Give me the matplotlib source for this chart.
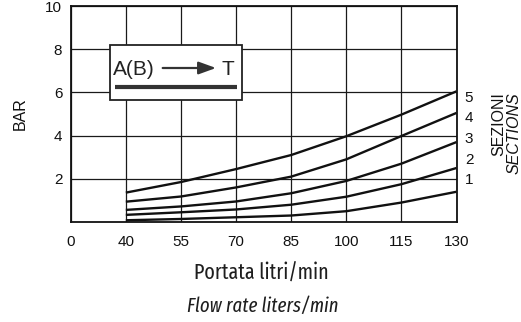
import numpy as np
import matplotlib
matplotlib.use("Agg")
import matplotlib.pyplot as plt
from matplotlib.patches import Rectangle, FancyArrowPatch
from matplotlib.lines import Line2D

# ---- data ----
tick_values = [0, 40, 55, 70, 85, 100, 115, 130]
tick_labels = ["0", "40", "55", "70", "85", "100", "115", "130"]
flow = [40, 55, 70, 85, 100, 115, 130]
sec1 = [0.08, 0.14, 0.22, 0.30, 0.50, 0.90, 1.40]
sec2 = [0.33, 0.45, 0.58, 0.80, 1.17, 1.75, 2.50]
sec3 = [0.56, 0.72, 0.95, 1.33, 1.90, 2.70, 3.70]
sec4 = [0.94, 1.18, 1.60, 2.10, 2.90, 3.98, 5.05]
sec5 = [1.36, 1.85, 2.45, 3.10, 3.97, 4.97, 6.05]
series = [sec1, sec2, sec3, sec4, sec5]
section_labels = ["5", "4", "3", "2", "1"]
y_ticks = [2, 4, 6, 8, 10]

W, H = 521, 322
fig = plt.figure(figsize=(W / 100, H / 100), dpi=100)
fig.patch.set_facecolor("white")

def px(x, y):
    return x / W, 1 - y / H

ax_l, ax_r, ax_t, ax_b = 70.7, 456.5, 6, 222
ax = fig.add_axes([ax_l / W, 1 - ax_b / H, (ax_r - ax_l) / W, (ax_b - ax_t) / H])

positions = np.arange(len(tick_values))
xpos = np.interp(flow, tick_values, positions)

ax.set_xlim(0, len(tick_values) - 1)
ax.set_ylim(0, 10)
ax.set_xticks(positions)
ax.set_xticklabels(tick_labels)
ax.set_yticks(y_ticks)
ax.set_yticklabels([str(v) for v in y_ticks])
ax.tick_params(length=0, labelsize=11, colors="#111111")
ax.tick_params(axis="x", pad=9)
ax.tick_params(axis="y", pad=6)
for lab in ax.get_xticklabels() + ax.get_yticklabels():
    lab.set_fontfamily("Liberation Sans")

ax.grid(True, color="#1a1a1a", lw=0.9)
ax.set_axisbelow(True)
for s in ax.spines.values():
    s.set_color("#111111")
    s.set_linewidth(1.3)

for ys in series:
    ax.plot(xpos, ys, color="#111111", lw=1.7, solid_capstyle="butt", zorder=3,
            clip_on=False)

# legend box
tr = ax.transAxes

def axx(x):
    return (x - ax_l) / (ax_r - ax_l)

def axy(y):
    return (ax_b - y) / (ax_b - ax_t)

bx0, bx1 = axx(110), axx(241.7)
by0, by1 = axy(100), axy(45)
ax.add_patch(Rectangle((bx0, by0), bx1 - bx0, by1 - by0, transform=tr,
                       facecolor="white", edgecolor="#222222", lw=1.3, zorder=5))

ax.text(axx(112.5), axy(75), "A(B)", transform=tr, fontsize=15,
        family="Liberation Sans", va="baseline", ha="left", zorder=6, color="#222222")
ax.text(axx(221), axy(75), "T", transform=tr, fontsize=15,
        family="Liberation Sans", va="baseline", ha="left", zorder=6, color="#222222")
arr = FancyArrowPatch((axx(162.7), axy(68)), (axx(216), axy(68)), transform=tr,
                      arrowstyle="-|>,head_length=10.5,head_width=3.8",
                      mutation_scale=1, shrinkA=0, shrinkB=0, color="#333333",
                      lw=1.6, zorder=6)
ax.add_patch(arr)
ax.add_line(Line2D([axx(115), axx(236.7)], [axy(86.5), axy(86.5)], transform=tr,
                   color="#333333", lw=3.0, zorder=6, solid_capstyle="butt"))

# section labels
for i, lab in enumerate(section_labels):
    fig.text(*px(469, 98 + i * 20.5), lab, fontsize=11, family="Liberation Sans",
             ha="center", va="center", color="#111111")

fig.text(*px(498.5, 92), "SEZIONI", rotation=90, fontsize=11.5,
         family="Liberation Sans", ha="center", va="top", color="#111111")
fig.text(*px(514.5, 92), "SECTIONS", rotation=90, fontsize=11.5, style="italic",
         family="Liberation Sans", ha="center", va="top", color="#111111")

fig.text(*px(20.5, 114), "BAR", rotation=90, fontsize=11.5,
         family="Liberation Sans", ha="center", va="center", color="#111111")

cond = ["Fira Sans Extra Condensed", "Roboto Condensed", "Liberation Sans"]
t1 = fig.text(*px(261, 280), "Portata litri/min", fontsize=18,
              family=cond, weight="normal", ha="center", va="baseline", color="#1e1e1e")
t2 = fig.text(*px(262.5, 312), "Flow rate liters/min", fontsize=18, style="italic",
              family=cond, weight="normal", ha="center", va="baseline", color="#1e1e1e")

# fit the two title lines to the widths seen in the reference
renderer = fig.canvas.get_renderer()
for t, target in ((t1, 135.0), (t2, 151.0)):
    w = t.get_window_extent(renderer).width
    t.set_fontsize(18 * target / w)

fig.savefig("out.png", dpi=100, facecolor="white")
